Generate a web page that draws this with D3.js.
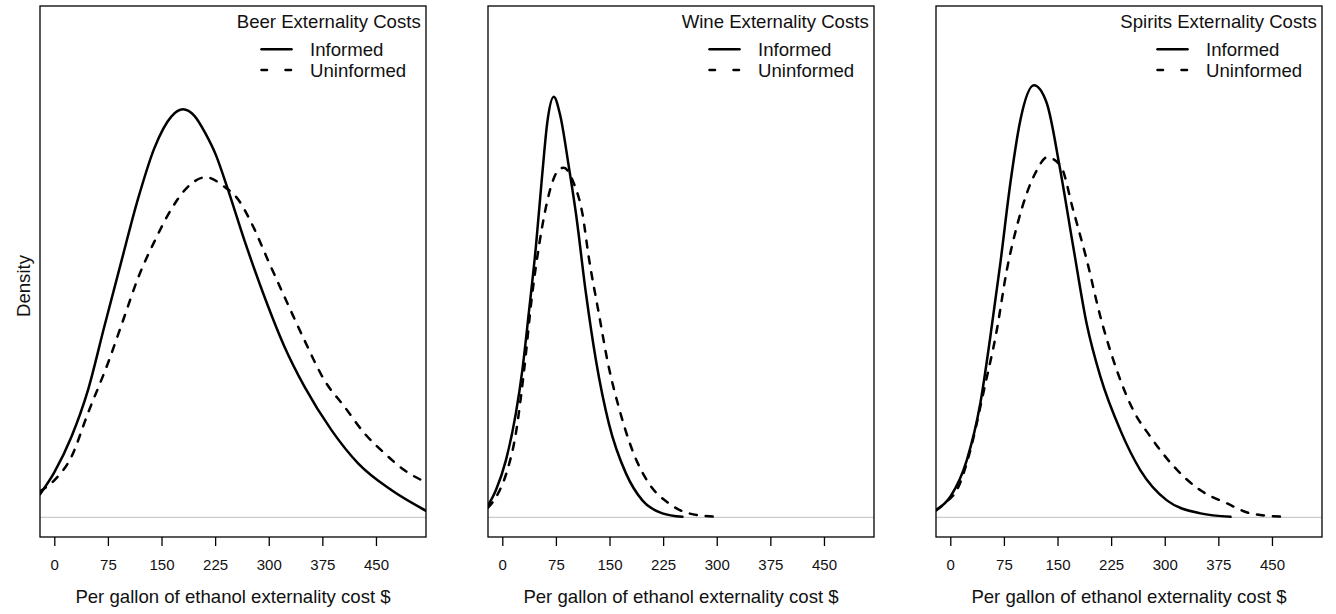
<!DOCTYPE html>
<html>
<head>
<meta charset="utf-8">
<script src="https://cdn.jsdelivr.net/npm/d3@7"></script>
<style>
  body { margin: 0; background: #fff; }
  svg { display: block; font-family: "Liberation Sans", Arial, Helvetica, sans-serif; }
</style>
</head>
<body>
<svg id="chart" width="1336" height="614"></svg>
<script>
// panels + legend
const panelTitles = ["Beer Externality Costs", "Wine Externality Costs", "Spirits Externality Costs"];
const seriesNames = ["Informed", "Uninformed"];
const xTicks = [0, 75, 150, 225, 300, 375, 450];
const xLabel = "Per gallon of ethanol externality cost $";
const yLabel = "Density";

// density curves, [cost $, density x 1e-3]
const beerInformed = [[-20,0.240],[0,0.467],[24,0.836],[47,1.317],[70,1.980],[94,2.660],[117,3.300],[140,3.830],[164,4.160],[180,4.232],[196,4.165],[212,3.975],[226,3.760],[241,3.444],[266,2.873],[294,2.288],[322,1.770],[350,1.355],[388,0.902],[425,0.560],[472,0.280],[520,0.068]];
const beerUninformed = [[-20,0.270],[0,0.384],[24,0.629],[47,1.079],[75,1.598],[98,2.081],[117,2.480],[140,2.860],[164,3.200],[182,3.390],[212,3.527],[238,3.429],[257,3.300],[276,3.050],[299,2.666],[322,2.288],[350,1.836],[378,1.421],[406,1.147],[434,0.871],[462,0.664],[490,0.488],[520,0.363]];

const wineInformed = [[-21,0.110],[-9,0.280],[5,0.591],[19,1.079],[28,1.525],[37,2.116],[47,2.807],[56,3.568],[63,4.100],[72,4.363],[81,4.170],[93,3.640],[103,3.154],[117,2.324],[131,1.629],[149,0.975],[173,0.456],[196,0.176],[224,0.041],[252,0.005]];
const wineUninformed = [[-20,0.100],[-5,0.260],[7,0.488],[19,0.871],[30,1.494],[42,2.324],[51,2.800],[61,3.216],[70,3.475],[77,3.589],[86,3.627],[100,3.465],[112,3.154],[121,2.697],[135,2.116],[149,1.556],[163,1.141],[182,0.695],[205,0.353],[233,0.145],[261,0.041],[300,0.005]];

const spiritsInformed = [[-21,0.073],[0,0.214],[23,0.591],[42,1.183],[56,1.873],[70,2.635],[84,3.465],[98,4.120],[117,4.481],[135,4.295],[153,3.637],[172,2.807],[191,2.000],[210,1.459],[238,0.902],[266,0.488],[303,0.176],[350,0.041],[392,0.005]];
const spiritsUninformed = [[-20,0.070],[-4,0.170],[9,0.280],[28,0.695],[47,1.317],[65,1.940],[79,2.562],[93,3.015],[107,3.361],[121,3.600],[135,3.734],[154,3.651],[172,3.185],[191,2.666],[210,2.081],[233,1.525],[256,1.110],[280,0.836],[313,0.525],[350,0.280],[387,0.145],[420,0.041],[468,0.005]];

const panelSeries = [
  [beerInformed, beerUninformed],
  [wineInformed, wineUninformed],
  [spiritsInformed, spiritsUninformed]
];

let svg = d3.select("#chart");

// layout
let plot_top = 6, plot_bottom = 537, plot_width = 386;
let panel_left = [40, 488, 936];
let xlim = [0, 500], ylim = [0, 5.1];
let pad = 0.04;  // R style axis padding
let font_big = '18.6px';

let dash_curve = "7,9";

panelTitles.forEach(function(title, p){
  let left = panel_left[p], right = left + plot_width;

  let x = d3.scaleLinear()
    .domain([xlim[0] - pad * (xlim[1] - xlim[0]), xlim[1] + pad * (xlim[1] - xlim[0])])
    .range([left, right]);
  let y = d3.scaleLinear()
    .domain([ylim[0] - pad * ylim[1], ylim[1] * (1 + pad)])
    .range([plot_bottom, plot_top]);

  let g = svg.append('g').attr('class', 'panel');

  g.append('clipPath').attr('id', 'clip' + p)
    .append('rect')
    .attr('x', left).attr('y', plot_top)
    .attr('width', plot_width).attr('height', plot_bottom - plot_top);

  // zero line
  g.append('line')
    .attr('x1', left).attr('x2', right)
    .attr('y1', y(0)).attr('y2', y(0))
    .attr('stroke', '#bebebe').attr('stroke-width', 1);

  let line = d3.line()
    .x(d => x(d[0]))
    .y(d => y(d[1]))
    .curve(d3.curveMonotoneX);

  g.selectAll('.curve')
    .data(panelSeries[p]).enter()
    .append('path').attr('class', 'curve')
    .attr('clip-path', 'url(#clip' + p + ')')
    .attr('d', line)
    .attr('fill', 'none')
    .attr('stroke', 'black')
    .attr('stroke-width', 2.5)
    .attr('stroke-linecap', 'round')
    .attr('stroke-linejoin', 'round')
    .attr('stroke-dasharray', (d, i) => i == 1 ? dash_curve : null);

  // box
  g.append('rect')
    .attr('x', left).attr('y', plot_top)
    .attr('width', plot_width).attr('height', plot_bottom - plot_top)
    .attr('fill', 'none').attr('stroke', 'black').attr('stroke-width', 1.3);

  // x axis
  let axis = g.append('g')
    .attr('transform', 'translate(0,' + plot_bottom + ')')
    .call(d3.axisBottom(x).tickValues(xTicks).tickSize(9).tickPadding(13));
  axis.select('.domain').remove();
  axis.selectAll('.tick line').attr('stroke', 'black').attr('stroke-width', 1.3);
  axis.selectAll('.tick text')
    .attr('fill', '#111')
    .style('font-family', '"Liberation Sans", Arial, sans-serif')
    .style('font-size', '15px');

  g.append('text')
    .attr('x', (left + right) / 2).attr('y', 602.5)
    .attr('text-anchor', 'middle')
    .style('font-size', font_big).attr('fill', '#111')
    .text(xLabel);

  // legend
  g.append('text')
    .attr('x', right - 5.3).attr('y', 28.3)
    .attr('text-anchor', 'end')
    .style('font-size', font_big).attr('fill', '#111')
    .text(title);

  let leg = g.selectAll('.legend_item')
    .data(seriesNames).enter()
    .append('g').attr('class', 'legend_item')
    .attr('transform', (d, i) => 'translate(' + right + ',' + (49.3 + i * 20.7) + ')');

  leg.append('line')
    .attr('x1', -164.5).attr('x2', -134.5)
    .attr('y1', 0).attr('y2', 0)
    .attr('stroke', 'black').attr('stroke-width', 2.5)
    .attr('stroke-linecap', 'round')
    .attr('stroke-dasharray', (d, i) => i == 1 ? "5.5,18.5" : null);

  leg.append('text')
    .attr('x', -116).attr('y', 6.7)
    .style('font-size', font_big).attr('fill', '#111')
    .text(d => d);
});

svg.append('text')
  .attr('transform', 'translate(30,286) rotate(-90)')
  .attr('text-anchor', 'middle')
  .style('font-size', font_big).attr('fill', '#111')
  .text(yLabel);
</script>
</body>
</html>
